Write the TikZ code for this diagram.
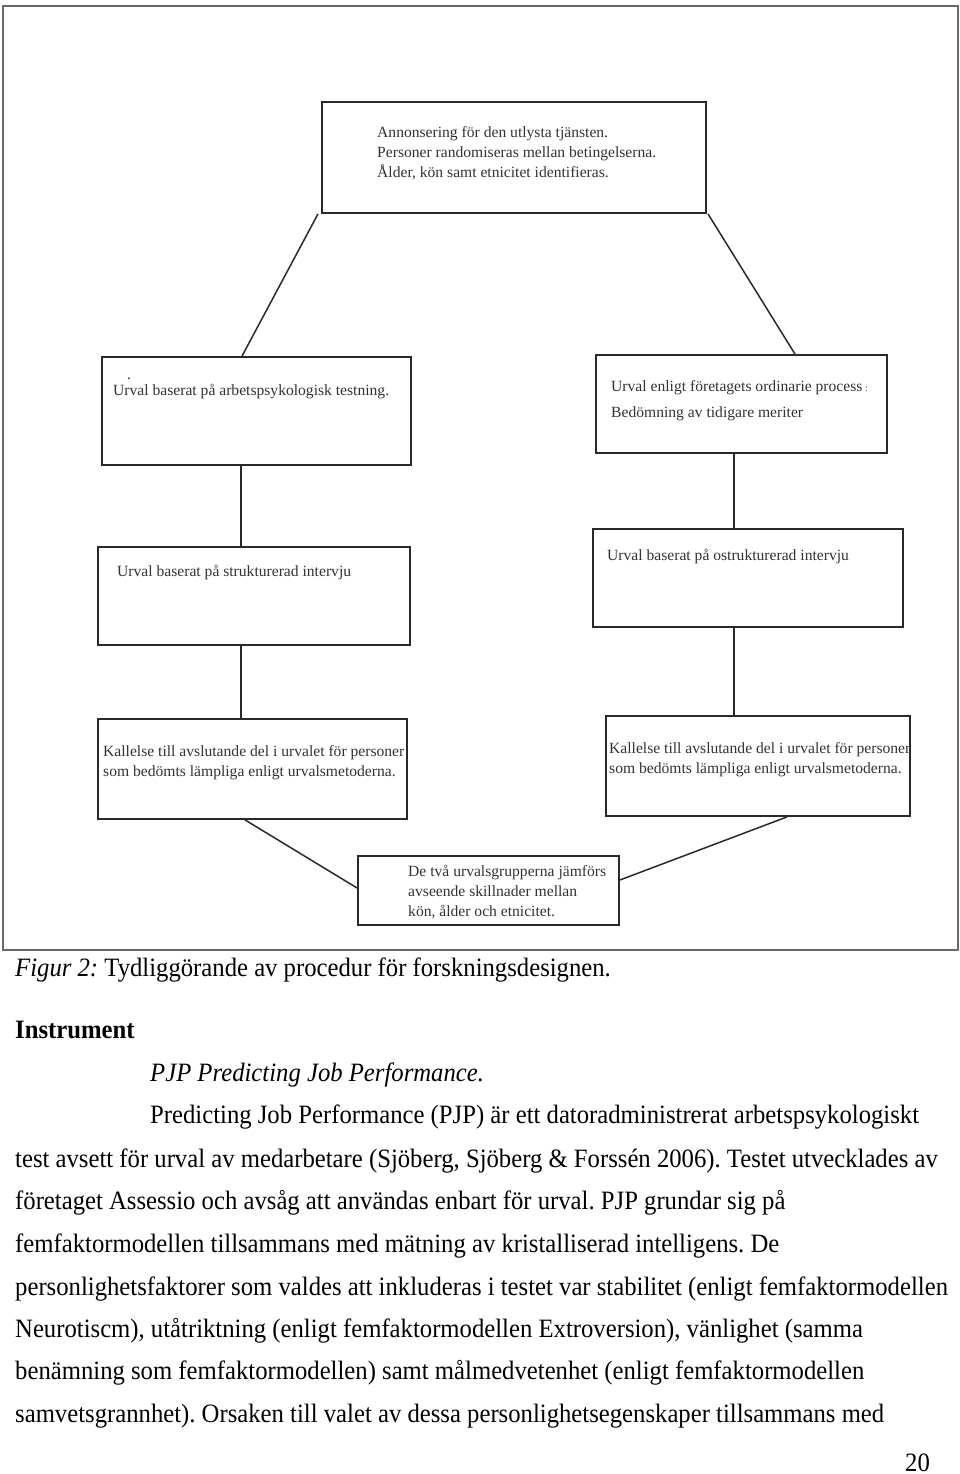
\documentclass[tikz,border=0pt]{standalone}
\usepackage{fontspec}
\setmainfont{Liberation Serif}
\newfontfamily\bodyfont[FakeStretch=0.932]{Liberation Serif}
\newfontfamily\diafont{Liberation Serif}
\usetikzlibrary{calc}
\definecolor{boxline}{HTML}{2A2A2A}
\definecolor{boxtext}{HTML}{333333}
\definecolor{framecol}{HTML}{6A6A6A}
\frenchspacing
\begin{document}
\begin{tikzpicture}[x=1pt,y=-1pt,
 box/.style={draw=boxline, line width=1.8pt, rectangle, inner sep=0pt},
 framebox/.style={draw=framecol, line width=1.5pt, rectangle, inner sep=0pt},
 btext/.style={anchor=west, inner sep=0pt, align=left, text=boxtext, font=\diafont\fontsize{15.6}{20}\selectfont},
 conn/.style={draw=boxline, line width=1.5pt},
 body/.style={anchor=base west, inner sep=0pt, font=\bodyfont\fontsize{26.5}{30}\selectfont}]
\useasboundingbox (0,0) rectangle (960,1474);
\fill[white] (0,0) rectangle (960,1474);
% frame
\node[framebox, minimum width=955pt, minimum height=944pt] (frame) at (480.5,478) {};
% boxes
\node[box, minimum width=384pt, minimum height=111pt] (T) at (514,157.5) {};
\node[box, minimum width=309pt, minimum height=108pt] (L1) at (256.5,411) {};
\node[box, minimum width=291pt, minimum height=98pt] (R1) at (741.5,404) {};
\node[box, minimum width=312pt, minimum height=98pt] (L2) at (254,596) {};
\node[box, minimum width=310pt, minimum height=98pt] (R2) at (748,578) {};
\node[box, minimum width=309pt, minimum height=100pt] (L3) at (252.5,769) {};
\node[box, minimum width=304pt, minimum height=100pt] (R3) at (758,766) {};
\node[box, minimum width=261pt, minimum height=69pt] (B) at (488.5,890.5) {};
% box texts
\node[btext] (tT) at (377,153) {Annonsering för den utlysta tjänsten.\\Personer randomiseras mellan betingelserna.\\Ålder, kön samt etnicitet identifieras.};
\node[btext] (tL1dot) at (127,379) {.};
\node[btext] (tL1) at (113,392) {Urval baserat på arbetspsykologisk testning.};
\node[btext, font=\diafont\fontsize{15.6}{26}\selectfont] (tR1) at (611,401) {Urval enligt företagets ordinarie process\,{\fontsize{10}{10}\selectfont :}\\Bedömning av tidigare meriter};
\node[btext] (tL2) at (117,573) {Urval baserat på strukturerad intervju};
\node[btext] (tR2) at (607,557) {Urval baserat på ostrukturerad intervju};
\node[btext] (tL3) at (103,763) {Kallelse till avslutande del i urvalet för personer\\som bedömts lämpliga enligt urvalsmetoderna.};
\node[btext] (tR3) at (609,760) {Kallelse till avslutande del i urvalet för personer\\som bedömts lämpliga enligt urvalsmetoderna.};
\node[btext] (tB) at (408,892) {De två urvalsgrupperna jämförs\\avseende skillnader mellan\\kön, ålder och etnicitet.};
% helper coordinates
\coordinate (lx) at (241,0);
\coordinate (rx) at (734,0);
\coordinate (tlx) at (318,0);
\coordinate (l1x) at (242,0);
\coordinate (trx) at (708,0);
\coordinate (r1x) at (795,0);
\coordinate (l3x) at (245,0);
\coordinate (r3x) at (787,0);
\coordinate (bly) at (0,888);
\coordinate (bry) at (0,880);
% connectors
\draw[conn] (T.south -| tlx) -- (L1.north -| l1x);
\draw[conn] (T.south -| trx) -- (R1.north -| r1x);
\draw[conn] (L1.south -| lx) -- (L2.north -| lx);
\draw[conn] (L2.south -| lx) -- (L3.north -| lx);
\draw[conn] (R1.south -| rx) -- (R2.north -| rx);
\draw[conn] (R2.south -| rx) -- (R3.north -| rx);
\draw[conn] (L3.south -| l3x) -- (B.west |- bly);
\draw[conn] (R3.south -| r3x) -- (B.east |- bry);
% body text
\node[body] (cap) at (15,976) {\textit{Figur 2:} Tydliggörande av procedur för forskningsdesignen.};
\node[body] (head) at (15,1038) {\textbf{Instrument}};
\node[body] (sub) at (150,1081) {\textit{PJP Predicting Job Performance.}};
\node[body] (p1) at (150,1123) {Predicting Job Performance (PJP) är ett datoradministrerat arbetspsykologiskt};
\node[body] (p2) at (15,1167) {test avsett för urval av medarbetare (Sjöberg, Sjöberg \& Forssén 2006). Testet utvecklades av};
\node[body] (p3) at (15,1209) {företaget Assessio och avsåg att användas enbart för urval. PJP grundar sig på};
\node[body] (p4) at (15,1252) {femfaktormodellen tillsammans med mätning av kristalliserad intelligens. De};
\node[body] (p5) at (15,1295) {personlighetsfaktorer som valdes att inkluderas i testet var stabilitet (enligt femfaktormodellen};
\node[body] (p6) at (15,1337) {Neurotiscm), utåtriktning (enligt femfaktormodellen Extroversion), vänlighet (samma};
\node[body] (p7) at (15,1379) {benämning som femfaktormodellen) samt målmedvetenhet (enligt femfaktormodellen};
\node[body] (p8) at (15,1422) {samvetsgrannhet). Orsaken till valet av dessa personlighetsegenskaper tillsammans med};
\node[body] (pg) at (905,1471) {20};
\end{tikzpicture}
\end{document}
